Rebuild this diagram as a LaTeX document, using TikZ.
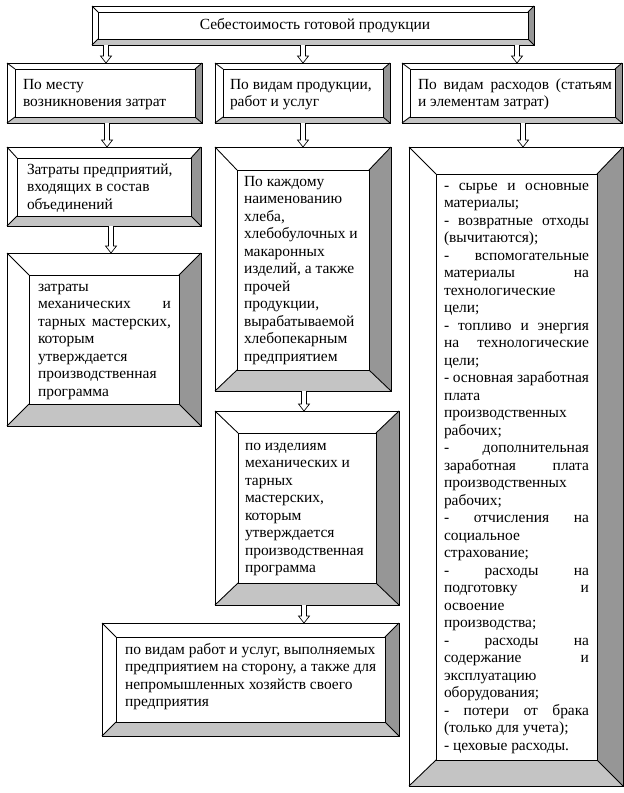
\documentclass[tikz,border=0pt]{standalone}
\usepackage{fontspec}
\setmainfont{Liberation Serif}
\usetikzlibrary{fit,calc}
\definecolor{bevdark}{RGB}{150,150,150}
\definecolor{bevlight}{RGB}{196,196,196}
\newcommand\tfont{\fontsize{11.6}{13.125}\selectfont}
\newcommand\jl[2]{\makebox[#1][s]{#2}}
\tikzset{
 boxline/.style={draw=black, line width=0.65pt},
 arrowline/.style={draw=black, fill=white, line width=0.5pt},
 txt/.style={anchor=north west, inner sep=0pt, outer sep=0pt, align=left, font=\tfont},
}
\newcommand\bevelbox[9]{%
  \coordinate (#1-A) at (#2,#3);
  \coordinate (#1-C) at (#4,#5);
  \coordinate (#1-a) at ({#2+#6},{#3+#7});
  \coordinate (#1-c) at ({#4-#8},{#5-#9});
  \node[fit=(#1-A)(#1-C), inner sep=0pt, outer sep=0pt, draw=none] (#1) {};
  \fill[white] (#1-A) rectangle (#1-C);
  \fill[bevdark] (#1.north east) -- (#1.south east) -- (#1-c) -- (#1-c |- #1-a) -- cycle;
  \fill[bevlight] (#1.south west) -- (#1.south east) -- (#1-c) -- (#1-a |- #1-c) -- cycle;
  \draw[boxline] (#1-A) rectangle (#1-C);
  \draw[boxline] (#1-a) rectangle (#1-c);
  \draw[boxline] (#1.north west) -- (#1-a) (#1.north east) -- (#1-c |- #1-a)
     (#1.south east) -- (#1-c) (#1.south west) -- (#1-a |- #1-c);
}
\newcommand\harrow[2]{%
  \draw[arrowline] ($(#1)+(-2.5,0)$) -- ($(#2)+(-2.5,-7)$) -- ($(#2)+(-5.5,-7)$) -- (#2)
    -- ($(#2)+(5.5,-7)$) -- ($(#2)+(2.5,-7)$) -- ($(#1)+(2.5,0)$);
}
\begin{document}
\begin{tikzpicture}[x=0.75pt,y=-0.75pt]
\useasboundingbox (0,0) rectangle (624,793);
\fill[white] (0,0) rectangle (624,793);

\bevelbox{b0}{92}{6}{534}{45}{6}{6}{6}{6}
\bevelbox{b1}{7}{63}{202}{123}{8}{6}{7}{6}
\bevelbox{b2}{215}{63}{390}{123}{8}{6}{7}{6}
\bevelbox{b3}{402}{63}{622}{123}{8}{6}{7}{6}
\bevelbox{b4}{7}{147}{201}{226}{10}{11}{10}{10}
\bevelbox{b5}{215}{147}{391}{391}{22}{23}{22}{21}
\bevelbox{b6}{409}{147}{623}{786}{27}{27}{26}{26}
\bevelbox{b7}{7}{253}{201}{426}{22}{22}{22}{22}
\bevelbox{b8}{215}{411}{399}{605}{23}{22}{23}{22}
\bevelbox{b9}{102}{623}{399}{736}{14}{14}{14}{14}

\coordinate (s01) at (b0.south -| 106,0); \coordinate (e01) at (b1.north -| 106,0);
\coordinate (s02) at (b0.south -| 303,0); \coordinate (e02) at (b2.north -| 303,0);
\coordinate (s03) at (b0.south -| 517,0); \coordinate (e03) at (b3.north -| 517,0);
\coordinate (s14) at (b1.south -| 107,0); \coordinate (e14) at (b4.north -| 107,0);
\coordinate (s25) at (b2.south -| 303,0); \coordinate (e25) at (b5.north -| 303,0);
\coordinate (s36) at (b3.south -| 523,0); \coordinate (e36) at (b6.north -| 523,0);
\coordinate (s47) at (b4.south -| 111,0); \coordinate (e47) at (b7.north -| 111,0);
\coordinate (s58) at (b5.south -| 304,0); \coordinate (e58) at (b8.north -| 304,0);
\coordinate (s89) at (b8.south -| 304,0); \coordinate (e89) at (b9.north -| 304,0);
\harrow{s01}{e01}\harrow{s02}{e02}\harrow{s03}{e03}
\harrow{s14}{e14}\harrow{s25}{e25}\harrow{s36}{e36}
\harrow{s47}{e47}\harrow{s58}{e58}\harrow{s89}{e89}

\node[txt, anchor=center] (t0) at ([xshift=1.5]b0.center) {\strut Себестоимость готовой продукции};
\node[txt] (t1) at (23,77) {\strut По месту\\возникновения затрат};
\node[txt] (t2) at (230,77) {\strut По видам продукции,\\работ и услуг};
\node[txt] (t3) at (418,77) {\strut\jl{145.5pt}{По видам расходов (статьям}\\и элементам затрат)};
\node[txt] (t4) at (27,162) {\strut Затраты предприятий,\\входящих в состав\\объединений};
\node[txt] (t5) at (244,174) {\strut По каждому\\наименованию\\хлеба,\\хлебобулочных и\\макаронных\\изделий, а также\\прочей\\продукции,\\вырабатываемой\\хлебопекарным\\предприятием};
\node[txt] (t7) at (38,279) {\strut затраты\\\jl{99.75pt}{механических и}\\\jl{99.75pt}{тарных мастерских,}\\которым\\утверждается\\производственная\\программа};
\node[txt] (t8) at (245,438) {\strut по изделиям\\механических и\\тарных\\мастерских,\\которым\\утверждается\\производственная\\программа};
\node[txt] (t9) at (125,642) {\strut по видам работ и услуг, выполняемых\\предприятием на сторону, а также для\\непромышленных хозяйств своего\\предприятия};
\node[txt] (t6) at (444,178) {\strut\jl{108.75pt}{- сырье и основные}\\материалы;\\
\jl{108.75pt}{- возвратные отходы}\\(вычитаются);\\
\jl{108.75pt}{- вспомогательные}\\\jl{108.75pt}{материалы на}\\технологические\\цели;\\
\jl{108.75pt}{- топливо и энергия}\\\jl{108.75pt}{на технологические}\\цели;\\
\jl{108.75pt}{- основная заработная}\\плата\\производственных\\рабочих;\\
\jl{108.75pt}{- дополнительная}\\\jl{108.75pt}{заработная плата}\\производственных\\рабочих;\\
\jl{108.75pt}{- отчисления на}\\социальное\\страхование;\\
\jl{108.75pt}{- расходы на}\\\jl{108.75pt}{подготовку и}\\освоение\\производства;\\
\jl{108.75pt}{- расходы на}\\\jl{108.75pt}{содержание и}\\эксплуатацию\\оборудования;\\
\jl{108.75pt}{- потери от брака}\\(только для учета);\\
- цеховые расходы.};
\end{tikzpicture}
\end{document}
